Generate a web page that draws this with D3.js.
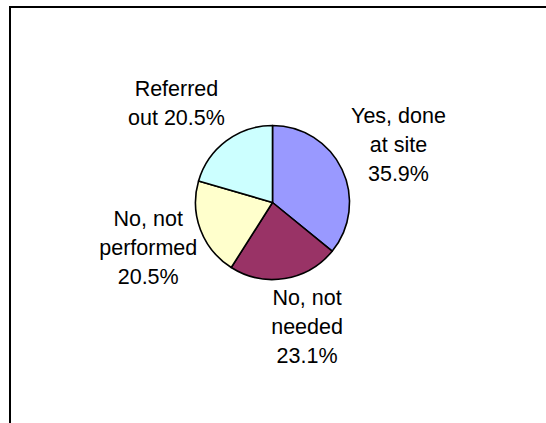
<!DOCTYPE html>
<html>
<head>
<meta charset="utf-8">
<script src="https://cdn.jsdelivr.net/npm/d3@7"></script>
<style>
  html, body { margin: 0; padding: 0; background: #fff; }
  svg { display: block; }
  text { font-family: "Liberation Sans", Arial, sans-serif; fill: #000; }
</style>
</head>
<body>
<svg id="chart" width="546" height="423"></svg>
<script>
// Survey responses, clockwise from 12 o'clock
const categories = ["Yes, done at site", "No, not needed", "No, not performed", "Referred out"];
const values = [35.9, 23.1, 20.5, 20.5];
const colors = ["#9999FF", "#993366", "#FFFFCC", "#CCFFFF"];
// small nudges applied to each label block after placing it on the label ring
const labelNudge = [[4, 0], [13, -9], [2, -3], [-15, 8]];

const W = 546, H = 423;
const svg = d3.select("#chart");

// chart area frame (top and left edges show, the rest runs off the page)
svg.append("rect")
  .attr("x", 10).attr("y", 7)
  .attr("width", W + 20).attr("height", H + 20)
  .attr("fill", "#fff")
  .attr("stroke", "#000")
  .attr("stroke-width", 2);

const cx = 272.5, cy = 202.5, r = 77;
const labelR = 135;
const fontSize = 21.5, lineH = 29, wrapWidth = 108;

const pie = d3.pie().sort(null).value(d => d.value);
const data = categories.map((c, i) => ({ name: c, value: values[i], color: colors[i], nudge: labelNudge[i] }));
const arcs = pie(data);

const arc = d3.arc().innerRadius(0).outerRadius(r);
const labelArc = d3.arc().innerRadius(labelR).outerRadius(labelR);

const g = svg.append("g").attr("transform", `translate(${cx},${cy})`);

g.selectAll("path.slice")
  .data(arcs)
  .join("path")
  .attr("class", "slice")
  .attr("d", arc)
  .attr("fill", d => d.data.color)
  .attr("stroke", "#000")
  .attr("stroke-width", 1.6)
  .attr("stroke-linejoin", "round");

// word-wrap a label to the given width using measured text lengths
function wrapWords(words, textEl, maxW) {
  const lines = [];
  let cur = [];
  words.forEach(w => {
    const trial = cur.concat([w]).join(" ");
    textEl.text(trial);
    if (cur.length && textEl.node().getComputedTextLength() > maxW) {
      lines.push(cur.join(" "));
      cur = [w];
    } else {
      cur.push(w);
    }
  });
  if (cur.length) lines.push(cur.join(" "));
  textEl.text(null);
  return lines;
}

const labels = g.selectAll("text.lbl")
  .data(arcs)
  .join("text")
  .attr("class", "lbl")
  .attr("text-anchor", "middle")
  .style("font-size", fontSize + "px");

labels.each(function(d) {
  const t = d3.select(this);
  const full = `${d.data.name} ${d.data.value.toFixed(1)}%`;
  const lines = wrapWords(full.split(" "), t, wrapWidth);
  const [lx, ly] = labelArc.centroid(d);
  const x = lx + d.data.nudge[0];
  const yc = ly + d.data.nudge[1];
  const capH = fontSize * 0.716;
  const firstBase = yc + capH / 2 - (lines.length - 1) * lineH / 2;
  lines.forEach((ln, i) => {
    t.append("tspan")
      .attr("x", x)
      .attr("y", firstBase + i * lineH)
      .text(ln);
  });
});
</script>
</body>
</html>
